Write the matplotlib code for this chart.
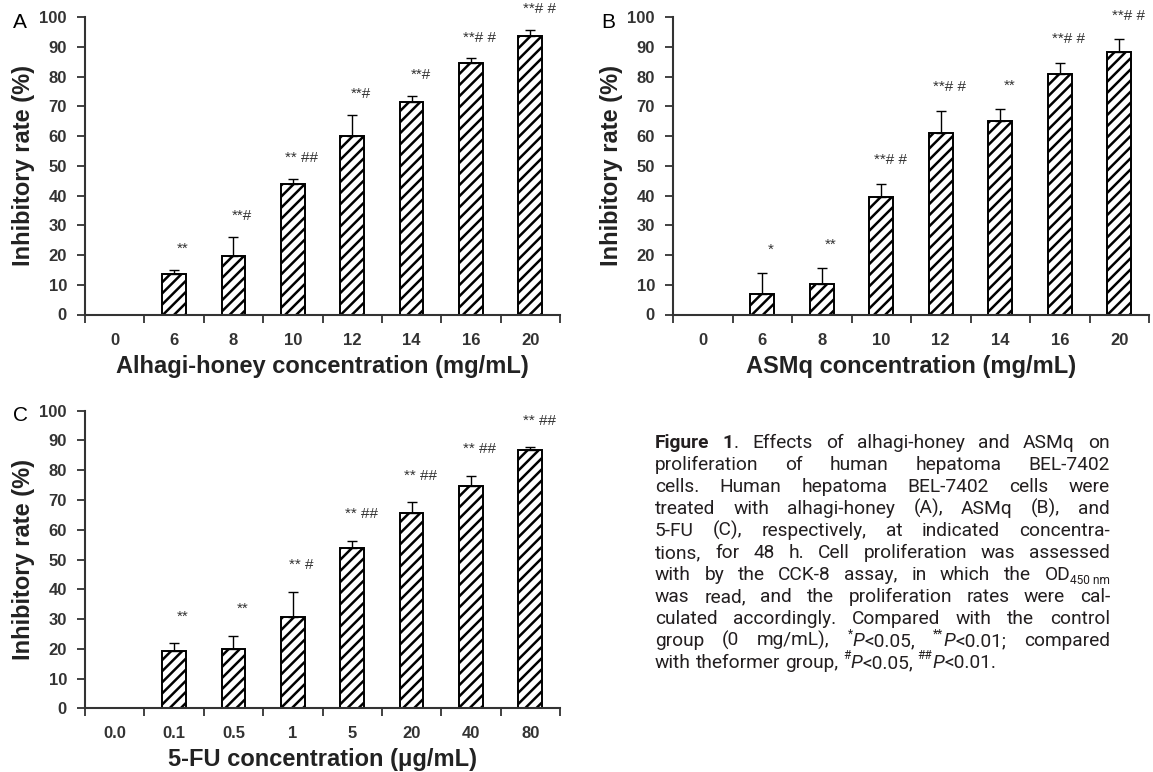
import re
import numpy as np
import matplotlib
matplotlib.use('Agg')
import matplotlib.pyplot as plt

plt.rcParams['font.family'] = ['Liberation Sans', 'DejaVu Sans']
plt.rcParams['hatch.linewidth'] = 1.8

# Panel A: alhagi-honey
honey_conc = ['0', '6', '8', '10', '12', '14', '16', '20']
honey_rate = [0, 13.5, 19.5, 43.9, 60.0, 71.5, 84.5, 93.5]
honey_err = [0, 1.5, 6.5, 1.6, 7.0, 2.0, 1.6, 2.1]
honey_sig = ['', '**', '**#', '** ##', '**#', '**#', '**# #', '**# #']

# Panel B: ASMq
asmq_conc = ['0', '6', '8', '10', '12', '14', '16', '20']
asmq_rate = [0, 6.8, 10.3, 39.4, 60.9, 65.0, 81.0, 88.1]
asmq_err = [0, 7.0, 5.2, 4.6, 7.6, 4.0, 3.6, 4.4]
asmq_sig = ['', '*', '**', '**# #', '**# #', '**', '**# #', '**# #']

# Panel C: 5-FU
fu_conc = ['0.0', '0.1', '0.5', '1', '5', '20', '40', '80']
fu_rate = [0, 19.3, 19.8, 30.7, 53.8, 65.7, 74.7, 86.8]
fu_err = [0, 2.5, 4.5, 8.5, 2.4, 3.5, 3.5, 0.9]
fu_sig = ['', '**', '**', '** #', '** ##', '** ##', '** ##', '** ##']

caption_lines = [
    "<b>Figure</b> <b>1</b>. Effects of alhagi-honey and ASMq on",
    "proliferation of human hepatoma BEL-7402",
    "cells. Human hepatoma BEL-7402 cells were",
    "treated with alhagi-honey (A), ASMq (B), and",
    "5-FU (C), respectively, at indicated concentra-",
    "tions, for 48 h. Cell proliferation was assessed",
    "with by the CCK-8 assay, in which the OD<sub>450\u00a0nm</sub>",
    "was read, and the proliferation rates were cal-",
    "culated accordingly. Compared with the control",
    "group (0 mg/mL), <sup>*</sup><i>P</i><0.05, <sup>**</sup><i>P</i><0.01; compared",
    "with theformer group, <sup>#</sup><i>P</i><0.05, <sup>##</sup><i>P</i><0.01.",
]

W, H = 1153, 772
fig = plt.figure(figsize=(W / 100, H / 100), dpi=100)


def bar_panel(rect, letter, conc, rate, err, sig, xlabel, sig_gap):
    # rect = (left px, right px, y of value 0 from top, y of value 100 from top)
    left, right, y0, y100 = rect
    ax = fig.add_axes([left / W, 1 - y0 / H, (right - left) / W, (y0 - y100) / H])
    x = np.arange(len(conc))
    rate = np.array(rate)
    err = np.array(err)
    ax.bar(x, rate, width=0.4, color='white', edgecolor='black', linewidth=1.4, hatch='///')
    m = err > 0
    ax.errorbar(x[m], rate[m], yerr=[np.zeros(m.sum()), err[m]], fmt='none',
                ecolor='black', elinewidth=1.0, capsize=3.5, capthick=1.0)
    for xi, r, e, s in zip(x, rate, err, sig):
        if s:
            ax.text(xi + 0.15, r + e + sig_gap, s, ha='center', va='center', fontsize=11,
                    color='#333333', clip_on=False)
    ax.set_xlim(-0.5, len(conc) - 0.5)
    ax.set_ylim(0, 100)
    ax.set_yticks(np.arange(0, 101, 10))
    ax.set_xticks(x)
    ax.set_xticklabels(conc)
    ax.set_xticks(np.arange(-0.5, len(conc)), minor=True)
    ax.tick_params(axis='x', which='major', length=0, pad=13, labelsize=12, labelcolor='#333333')
    ax.tick_params(axis='x', which='minor', length=6, width=1.3, color='#333333')
    ax.tick_params(axis='y', length=6, width=1.3, color='#333333', pad=7, labelsize=12, labelcolor='#333333')
    for lab in ax.get_xticklabels() + ax.get_yticklabels():
        lab.set_fontweight('bold')
    for side in ['top', 'right']:
        ax.spines[side].set_visible(False)
    for side in ['left', 'bottom']:
        ax.spines[side].set_linewidth(1.5)
        ax.spines[side].set_color('#333333')
    ax.set_xlabel(xlabel, fontsize=17, fontweight='bold', color='#222222', labelpad=5)
    ax.set_ylabel('Inhibitory rate (%)', fontsize=17, fontweight='bold', color='#222222', labelpad=3)
    fig.text((left - 65) / W, 1 - (y100 + 5) / H, letter, fontsize=15, ha='center', va='center')
    return ax


bar_panel((85, 560, 314.5, 17), 'A', honey_conc, honey_rate, honey_err, honey_sig,
          'Alhagi-honey concentration (mg/mL)', 7.0)
bar_panel((673, 1149, 314.5, 17), 'B', asmq_conc, asmq_rate, asmq_err, asmq_sig,
          'ASMq concentration (mg/mL)', 8.0)
bar_panel((85, 560, 708.3, 410.7), 'C', fu_conc, fu_rate, fu_err, fu_sig,
          '5-FU concentration (\u03bcg/mL)', 9.0)

TAG = re.compile(r'(</?(?:b|i|sup|sub)>)')
CAPTION_FONT = ['Roboto', 'DejaVu Sans']


def layout_words(lines, size, renderer):
    # build Text objects for every segment, return per-line word lists
    style = 'n'
    out = []
    for line in lines:
        words = []
        for word in line.split(' '):
            segs = []
            for tok in TAG.split(word):
                if not tok:
                    continue
                if TAG.fullmatch(tok):
                    style = 'n' if tok.startswith('</') else tok[1:-1]
                    continue
                kw = dict(fontsize=size, color='#231f20', family=CAPTION_FONT)
                dy = 0
                if style == 'b':
                    kw['fontweight'] = 'bold'
                elif style == 'i':
                    kw['fontstyle'] = 'italic'
                elif style == 'sup':
                    kw['fontsize'] = size * 0.62
                    dy = -size * 0.45 * 100 / 72
                elif style == 'sub':
                    kw['fontsize'] = size * 0.62
                    dy = size * 0.22 * 100 / 72
                t = fig.text(0, 0, tok, va='baseline', ha='left', **kw)
                segs.append((t, t.get_window_extent(renderer).width, dy))
            words.append(segs)
        out.append(words)
    return out


def draw_caption(lines, left, right, first_base, step):
    renderer = fig.canvas.get_renderer()
    # size: a bit under the one at which the widest justified line just fits
    trial = layout_words(lines, 10, renderer)
    sp = fig.text(0, 0, 'n n', fontsize=10, family=CAPTION_FONT)
    nn = fig.text(0, 0, 'nn', fontsize=10, family=CAPTION_FONT)
    space10 = sp.get_window_extent(renderer).width - nn.get_window_extent(renderer).width
    sp.remove()
    nn.remove()
    widest = 0
    for words in trial[:-1]:
        natural = sum(w for segs in words for _, w, _ in segs) + space10 * (len(words) - 1)
        widest = max(widest, natural)
    for words in trial:
        for segs in words:
            for t, _, _ in segs:
                t.remove()
    size = 0.88 * 10 * (right - left) / widest
    space = space10 * size / 10

    for k, words in enumerate(layout_words(lines, size, renderer)):
        base = first_base + k * step
        widths = [sum(s[1] for s in segs) for segs in words]
        if k < len(lines) - 1 and len(words) > 1:
            gap = (right - left - sum(widths)) / (len(words) - 1)
        else:
            gap = space
        xpos = left
        for segs, ww in zip(words, widths):
            xs = xpos
            for t, w, dy in segs:
                t.set_position((xs / W, 1 - (base + dy) / H))
                xs += w
            xpos += ww + gap


draw_caption(caption_lines, 655, 1110, 448, 22)

fig.savefig('out.png', dpi=100)
